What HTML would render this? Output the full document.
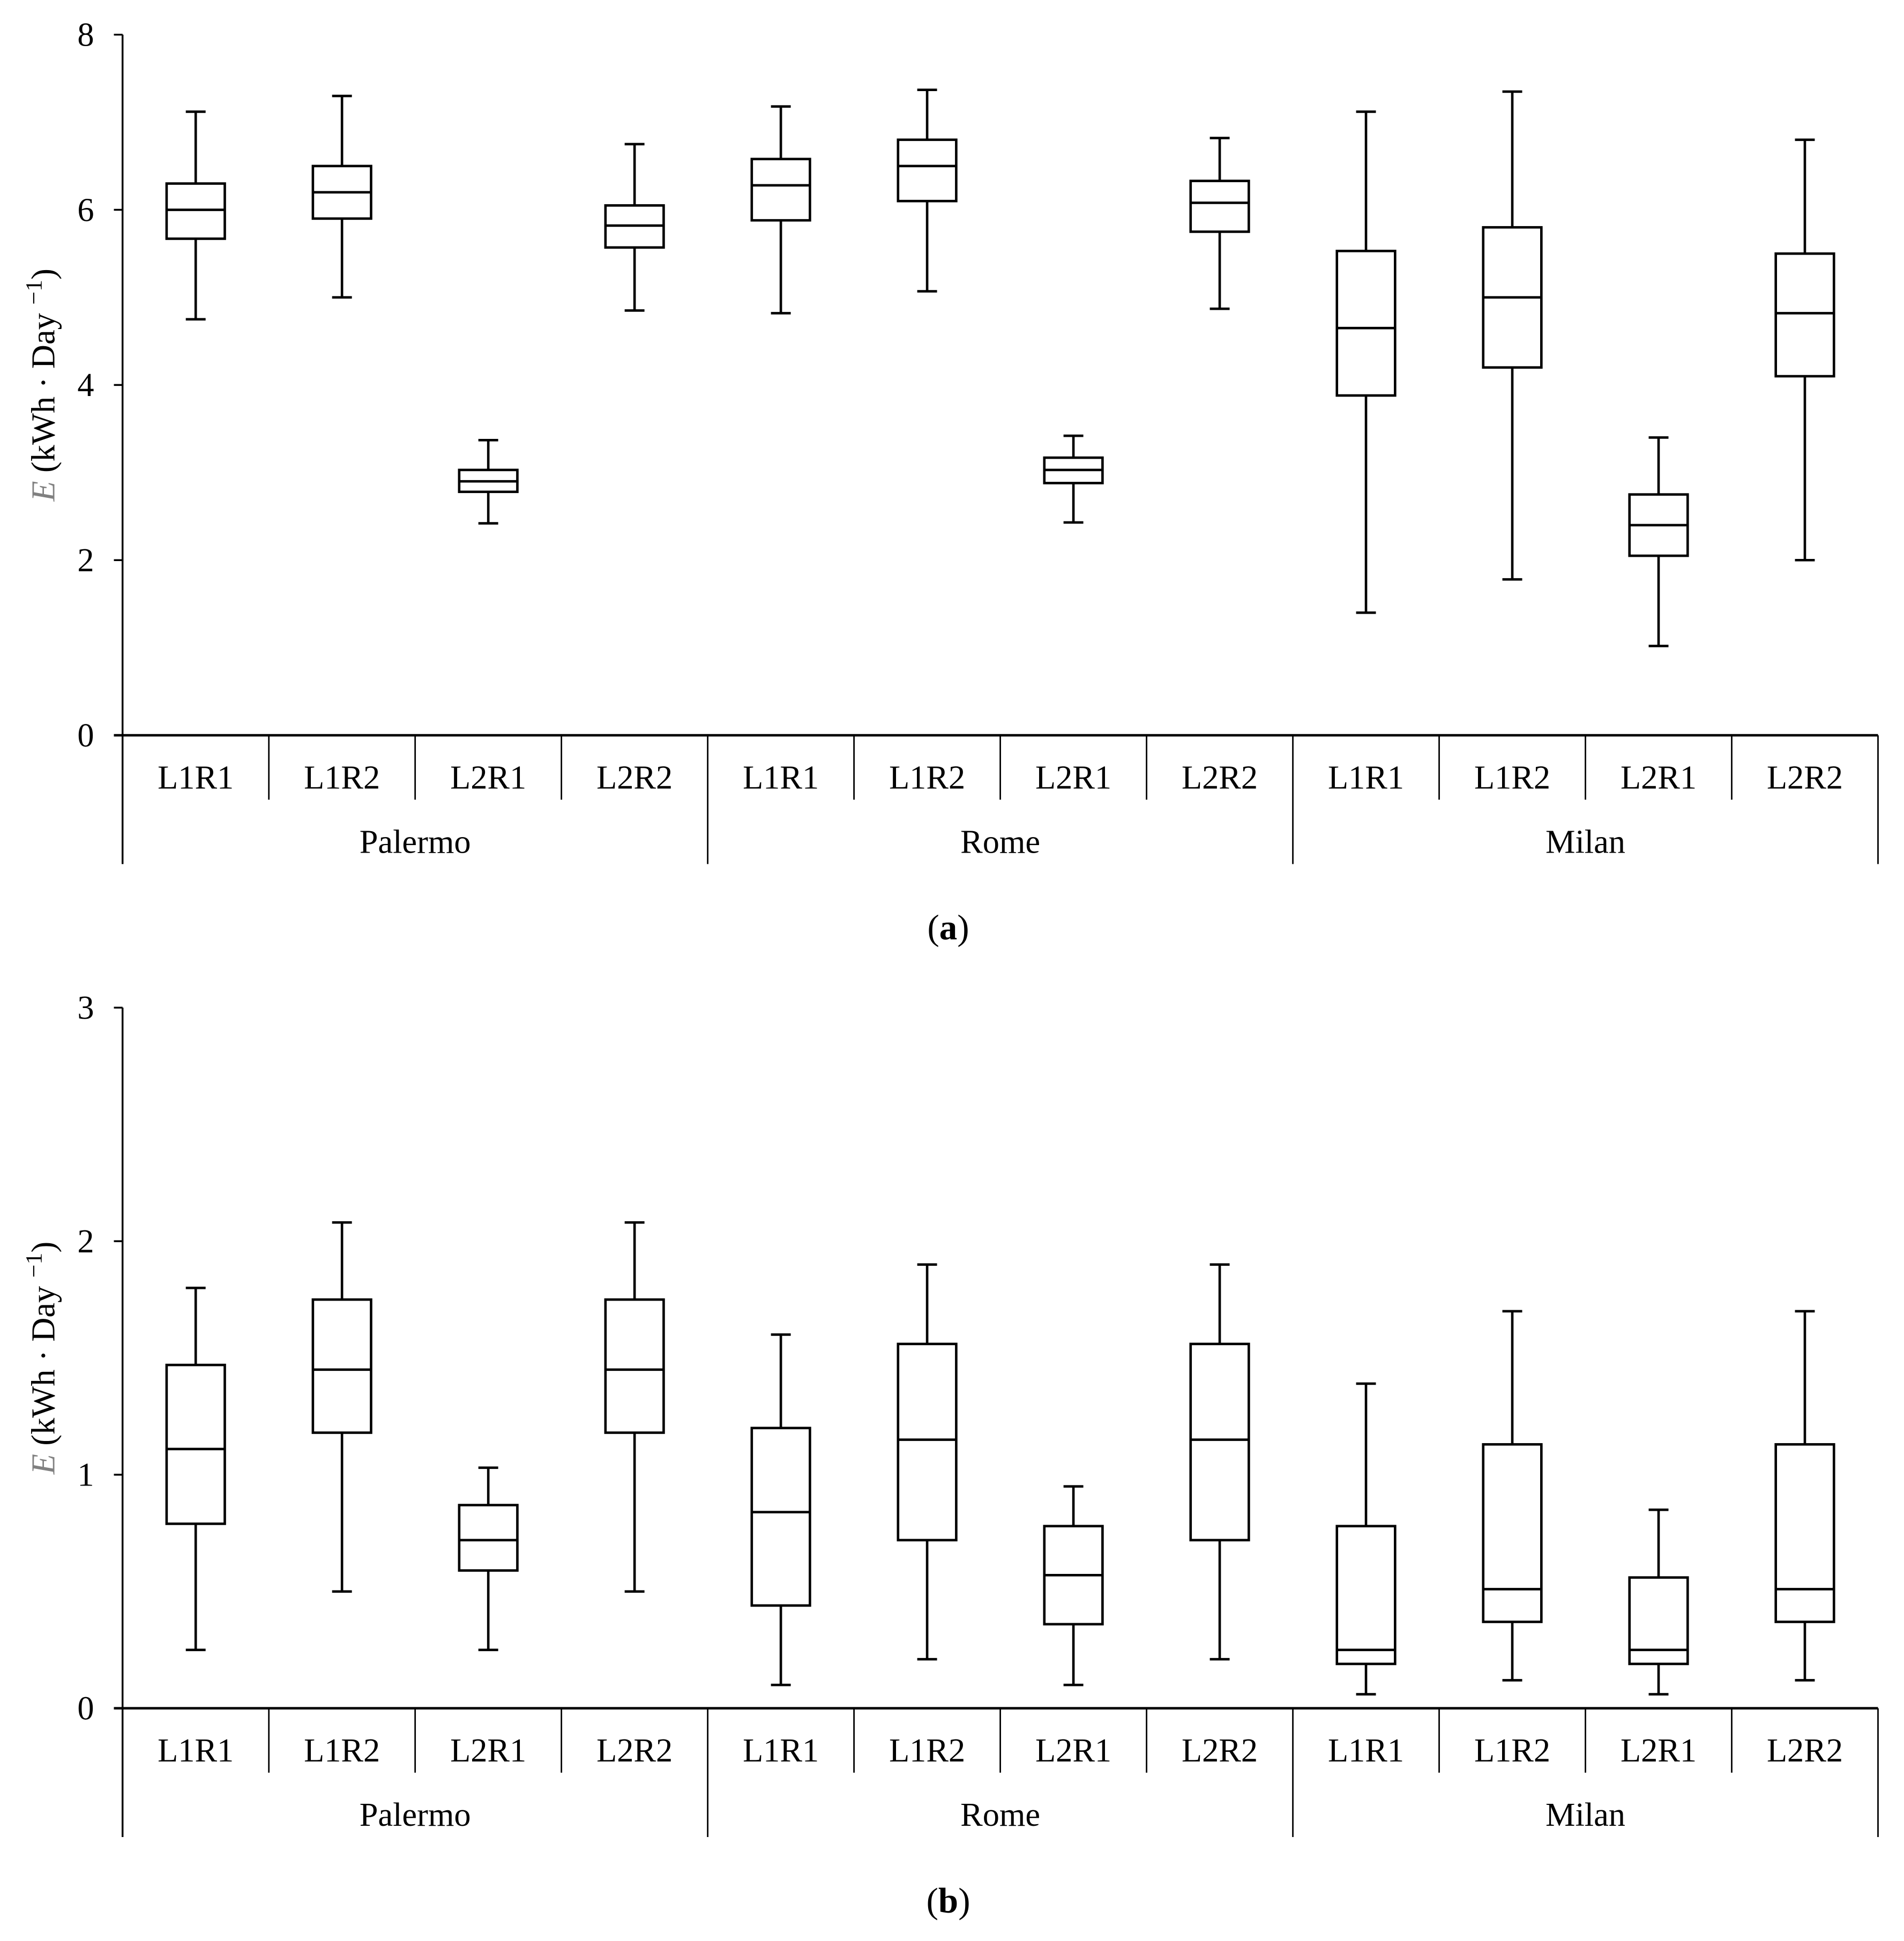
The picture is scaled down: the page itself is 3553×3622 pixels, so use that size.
<!DOCTYPE html>
<html><head><meta charset="utf-8"><style>
html,body{margin:0;padding:0;background:#fff}
svg{display:block}
text{font-family:"Liberation Serif",serif;fill:#000}
</style></head><body>
<svg id="chart" width="3553" height="3622" viewBox="0 0 1538 1568" preserveAspectRatio="none" xmlns="http://www.w3.org/2000/svg"></svg>
<script>
const categories=["L1R1","L1R2","L2R1","L2R2","L1R1","L1R2","L2R1","L2R2","L1R1","L1R2","L2R1","L2R2"];
const cities=["Palermo","Rome","Milan"];
// panel a: [min,q1,median,q3,max]
const aMin=[4.75,5.0,2.42,4.85,4.82,5.07,2.43,4.87,1.4,1.78,1.02,2.0];
const aQ1=[5.67,5.9,2.78,5.57,5.88,6.1,2.88,5.75,3.88,4.2,2.05,4.1];
const aMed=[6.0,6.2,2.9,5.82,6.28,6.5,3.03,6.08,4.65,5.0,2.4,4.82];
const aQ3=[6.3,6.5,3.03,6.05,6.58,6.8,3.17,6.33,5.53,5.8,2.75,5.5];
const aMax=[7.12,7.3,3.37,6.75,7.18,7.37,3.42,6.82,7.12,7.35,3.4,6.8];
const aTicks=[0,2,4,6,8];
// panel b
const bMin=[0.25,0.50,0.25,0.50,0.10,0.21,0.10,0.21,0.06,0.12,0.06,0.12];
const bQ1=[0.79,1.18,0.59,1.18,0.44,0.72,0.36,0.72,0.19,0.37,0.19,0.37];
const bMed=[1.11,1.45,0.72,1.45,0.84,1.15,0.57,1.15,0.25,0.51,0.25,0.51];
const bQ3=[1.47,1.75,0.87,1.75,1.20,1.56,0.78,1.56,0.78,1.13,0.56,1.13];
const bMax=[1.80,2.08,1.03,2.08,1.60,1.90,0.95,1.90,1.39,1.70,0.85,1.70];
const bTicks=[0,1,2,3];

const svg=document.getElementById('chart');
const NS="http://www.w3.org/2000/svg";
function mk(tag,attrs,parent){const e=document.createElementNS(NS,tag);for(const k in attrs)e.setAttribute(k,attrs[k]);(parent||svg).appendChild(e);return e;}
const X0=99,X1=1517,CW=(X1-X0)/12;
function xc(i){return X0+CW*(i+0.5);}

function panel(id,yTop,yBot,yMaxV,ticks,mins,q1,med,q3,maxs,letter){
  const g=mk('g',{});
  
  
  const y=v=>yBot-(v/yMaxV)*(yBot-yTop);
  const ax=mk('line',{x1:X0,y1:yTop,x2:X0,y2:yBot+104,stroke:'#000','stroke-width':1.5},g);
  
  
  const xa=mk('line',{x1:X0-7,y1:yBot,x2:X1,y2:yBot,stroke:'#000','stroke-width':2},g);
  
  
  ticks.forEach(t=>{
    mk('line',{x1:X0-7,y1:y(t),x2:X0,y2:y(t),stroke:'#000','stroke-width':1.5},g);
    const tl=mk('text',{x:X0-23,y:y(t)+9,'text-anchor':'end','font-size':27},g);
    tl.textContent=t;
    
    
  });
  for(let i=1;i<=12;i++){
    const xx=X0+CW*i;
    const city=(i%4===0);
    mk('line',{x1:xx,y1:yBot,x2:xx,y2:yBot+(city?104:52),stroke:'#000','stroke-width':1.2},g);
  }
  categories.forEach((c,i)=>{
    const t=mk('text',{x:xc(i),y:yBot+43,'text-anchor':'middle','font-size':27},g);
    t.textContent=c;
    
    
  });
  cities.forEach((c,k)=>{
    const t=mk('text',{x:X0+CW*(4*k+2),y:yBot+95,'text-anchor':'middle','font-size':27},g);
    t.textContent=c;
    
    
  });
  const yt=mk('text',{transform:`translate(44,${(yTop+yBot)/2}) rotate(-90)`,'text-anchor':'middle','font-size':27},g);
  yt.innerHTML='<tspan font-style="italic" fill="#808080">E</tspan> (kWh · Day <tspan baseline-shift="super" font-size="19">−1</tspan>)';
  
  
  const cap=mk('text',{x:766,y:yBot+165,'text-anchor':'middle','font-size':29},g);
  cap.innerHTML='(<tspan font-weight="bold">'+letter+'</tspan>)';
  
  
  const bw=47,cw=16;
  categories.forEach((c,i)=>{
    const bx=mk('g',{stroke:'#000','stroke-width':2,fill:'none'},g);
    
    
    const x=xc(i);
    mk('line',{x1:x,y1:y(maxs[i]),x2:x,y2:y(q3[i])},bx);
    mk('line',{x1:x,y1:y(q1[i]),x2:x,y2:y(mins[i])},bx);
    mk('line',{x1:x-cw/2,y1:y(maxs[i]),x2:x+cw/2,y2:y(maxs[i])},bx);
    mk('line',{x1:x-cw/2,y1:y(mins[i]),x2:x+cw/2,y2:y(mins[i])},bx);
    mk('rect',{x:x-bw/2,y:y(q3[i]),width:bw,height:y(q1[i])-y(q3[i])},bx);
    mk('line',{x1:x-bw/2,y1:y(med[i]),x2:x+bw/2,y2:y(med[i])},bx);
  });
}
panel('a',28,594,8,aTicks,aMin,aQ1,aMed,aQ3,aMax,'a');
panel('b',814,1380,3,bTicks,bMin,bQ1,bMed,bQ3,bMax,'b');
</script>
</body></html>
